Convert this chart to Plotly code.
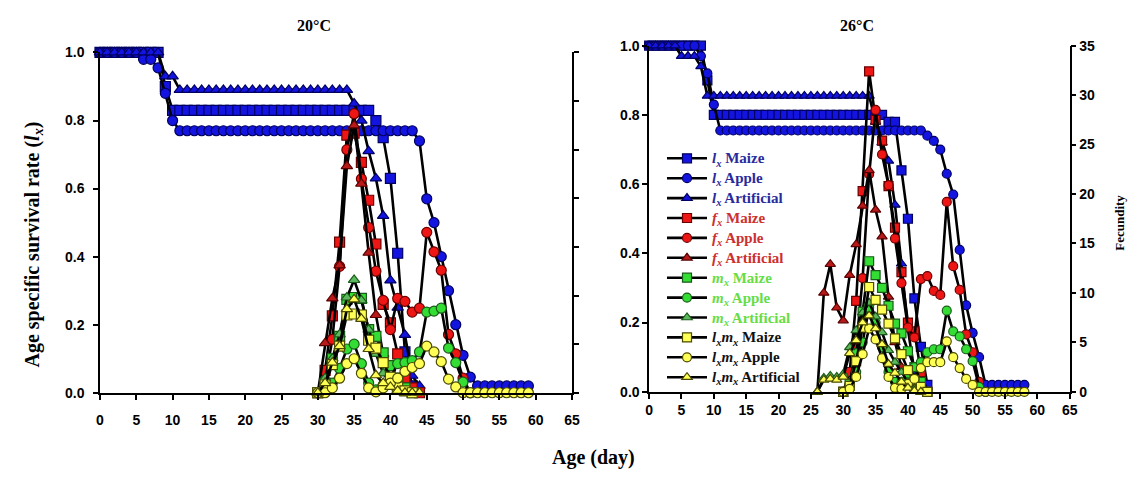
import plotly.graph_objects as go

# ---------------- DATA ----------------
# 20 °C panel ------------------------------------------------------
DAYS_LX_MAIZE_20 = list(range(0, 44))
LX_MAIZE_20 = [1.0, 1.0, 1.0, 1.0, 1.0, 1.0, 1.0, 1.0, 1.0, 0.90,
               0.83, 0.83, 0.83, 0.83, 0.83, 0.83, 0.83, 0.83, 0.83, 0.83,
               0.83, 0.83, 0.83, 0.83, 0.83, 0.83, 0.83, 0.83, 0.83, 0.83,
               0.83, 0.83, 0.83, 0.83, 0.83, 0.83, 0.83, 0.83,
               0.80, 0.75, 0.63, 0.41, 0.12, 0.02]
DAYS_LX_APPLE_20 = list(range(0, 60))
LX_APPLE_20 = [1.0, 1.0, 1.0, 1.0, 1.0, 1.0, 0.98, 0.98, 0.955, 0.88, 0.80,
               0.77, 0.77, 0.77, 0.77, 0.77, 0.77, 0.77, 0.77, 0.77, 0.77,
               0.77, 0.77, 0.77, 0.77, 0.77, 0.77, 0.77, 0.77, 0.77, 0.77,
               0.77, 0.77, 0.77, 0.77, 0.77, 0.77, 0.77, 0.77, 0.77, 0.77,
               0.77, 0.77, 0.77,
               0.74, 0.57, 0.50, 0.40, 0.30, 0.20, 0.11, 0.046,
               0.02, 0.02, 0.02, 0.02, 0.02, 0.02, 0.02, 0.02]
DAYS_LX_ART_20 = list(range(0, 45))
LX_ART_20 = [1.0, 1.0, 1.0, 1.0, 1.0, 1.0, 1.0, 1.0, 1.0, 0.93, 0.93,
             0.89, 0.89, 0.89, 0.89, 0.89, 0.89, 0.89, 0.89, 0.89, 0.89,
             0.89, 0.89, 0.89, 0.89, 0.89, 0.89, 0.89, 0.89, 0.89, 0.89,
             0.89, 0.89, 0.89, 0.89,
             0.85, 0.80, 0.71, 0.63, 0.52, 0.33, 0.25, 0.17, 0.05, 0.02]

DAYS_FX_MAIZE_20 = list(range(30, 45))
FX_MAIZE_20 = [0, 2.3, 7.9, 15.5, 26.5, 26.7, 23.7, 19.8, 15.3, 9.1, 7.2, 4.0, 1.5, 0.5, 0]
DAYS_FX_APPLE_20 = list(range(30, 52))
FX_APPLE_20 = [0, 1.2, 5.5, 13.0, 25.0, 28.7, 22.0, 17.0, 12.5, 9.5, 6.5, 9.7, 9.4, 8.3,
               8.7, 16.5, 14.5, 12.6, 6.0, 4.0, 1.5, 0]
DAYS_FX_ART_20 = list(range(30, 43))
FX_ART_20 = [0, 5.1, 9.7, 13.1, 23.3, 27.5, 21.5, 14.4, 8.0, 4.0, 1.5, 0.5, 0]

DAYS_MX_MAIZE_20 = list(range(30, 44))
MX_MAIZE_20 = [0, 1.0, 3.5, 5.8, 9.6, 9.8, 9.7, 6.5, 5.8, 4.1, 2.8, 1.5, 0.5, 0]
DAYS_MX_APPLE_20 = list(range(30, 52))
MX_APPLE_20 = [0, 0.2, 1.0, 2.5, 4.5, 5.0, 3.0, 1.0, 0.3, 0.8, 1.5, 3.0, 3.1, 3.3,
               4.2, 8.3, 8.4, 8.7, 4.6, 3.1, 1.1, 0]
DAYS_MX_ART_20 = list(range(30, 43))
MX_ART_20 = [0, 1.5, 3.5, 6.0, 9.8, 11.6, 9.5, 6.5, 4.0, 2.0, 1.0, 0.3, 0]

DAYS_LXMX_MAIZE_20 = list(range(30, 44))
LXMX_MAIZE_20 = [0, 0.8, 2.9, 4.8, 8.0, 8.1, 8.0, 5.4, 4.6, 3.1, 1.6, 0.6, 0.2, 0]
DAYS_LXMX_APPLE_20 = list(range(30, 60))
LXMX_APPLE_20 = [0, 0, 0.5, 1.5, 3.0, 3.5, 2.0, 0.5, 0.1, 0.5, 1.0, 1.5, 2.2, 2.6,
                 3.0, 4.8, 4.2, 3.2, 1.4, 0.6, 0, 0, 0, 0, 0, 0, 0, 0, 0, 0]
DAYS_LXMX_ART_20 = list(range(30, 45))
LXMX_ART_20 = [0, 1.0, 3.1, 4.8, 8.6, 9.6, 7.6, 4.5, 1.8, 1.0, 0.6, 0.2, 0, 0, 0]

# 26 °C panel ------------------------------------------------------
DAYS_LX_MAIZE_26 = list(range(0, 44))
LX_MAIZE_26 = [1.0, 1.0, 1.0, 1.0, 1.0, 1.0, 1.0, 1.0, 1.0, 0.90,
               0.80, 0.80, 0.80, 0.80, 0.80, 0.80, 0.80, 0.80, 0.80, 0.80,
               0.80, 0.80, 0.80, 0.80, 0.80, 0.80, 0.80, 0.80, 0.80, 0.80,
               0.80, 0.80, 0.80, 0.80, 0.80, 0.80, 0.80,
               0.78, 0.78, 0.64, 0.50, 0.27, 0.13, 0.02]
DAYS_LX_APPLE_26 = list(range(0, 59))
LX_APPLE_26 = [1.0, 1.0, 1.0, 1.0, 1.0, 1.0, 1.0, 1.0, 0.97, 0.92, 0.83,
               0.755, 0.755, 0.755, 0.755, 0.755, 0.755, 0.755, 0.755, 0.755, 0.755,
               0.755, 0.755, 0.755, 0.755, 0.755, 0.755, 0.755, 0.755, 0.755, 0.755,
               0.755, 0.755, 0.755, 0.755, 0.755, 0.755, 0.755, 0.755, 0.755, 0.755,
               0.755, 0.755,
               0.74, 0.725, 0.70, 0.63, 0.57, 0.41, 0.25, 0.17, 0.10,
               0.02, 0.02, 0.02, 0.02, 0.02, 0.02, 0.02]
DAYS_LX_ART_26 = list(range(0, 43))
LX_ART_26 = [1.0, 1.0, 1.0, 1.0, 1.0, 0.97, 0.97, 0.97, 0.94,
             0.855, 0.855, 0.855, 0.855, 0.855, 0.855, 0.855, 0.855, 0.855, 0.855,
             0.855, 0.855, 0.855, 0.855, 0.855, 0.855, 0.855, 0.855, 0.855, 0.855,
             0.855, 0.855, 0.855, 0.855, 0.855, 0.855,
             0.78, 0.72, 0.667, 0.54, 0.37, 0.18, 0.06, 0.02]

DAYS_FX_MAIZE_26 = list(range(30, 44))
FX_MAIZE_26 = [0, 2.0, 9.2, 20.3, 32.4, 27.5, 25.4, 20.8, 16.6, 12.1, 7.0, 6.1, 2.0, 0]
DAYS_FX_APPLE_26 = list(range(30, 53))
FX_APPLE_26 = [0, 0.8, 4.5, 11.5, 22.0, 28.5, 24.0, 20.9, 15.5, 11.0, 6.5, 5.5,
               11.4, 11.7, 10.2, 9.8, 19.2, 12.7, 10.3, 5.8, 4.0, 1.0, 0]
DAYS_FX_ART_26 = list(range(26, 43))
FX_ART_26 = [0, 10.0, 12.9, 8.5, 7.2, 11.8, 14.9, 18.8, 22.4, 18.4, 15.7, 9.6, 5.0,
             2.5, 1.0, 0.3, 0]

DAYS_MX_MAIZE_26 = list(range(30, 44))
MX_MAIZE_26 = [0, 0.8, 3.9, 8.1, 13.2, 11.8, 10.5, 8.7, 6.9, 5.9, 4.1, 2.5, 1.0, 0]
DAYS_MX_APPLE_26 = list(range(30, 53))
MX_APPLE_26 = [0, 0.4, 2.0, 5.0, 8.5, 7.0, 4.5, 2.0, 1.0, 1.0, 1.8, 2.5,
               3.0, 4.0, 4.3, 4.3, 8.2, 6.1, 5.6, 4.3, 3.1, 0.5, 0]
DAYS_MX_ART_26 = list(range(26, 43))
MX_ART_26 = [0, 1.4, 1.6, 1.5, 1.8, 4.5, 6.2, 8.0, 9.0, 7.6, 6.0, 4.2, 3.0, 2.0,
             1.0, 0.3, 0]

DAYS_LXMX_MAIZE_26 = list(range(30, 44))
LXMX_MAIZE_26 = [0, 0.6, 3.1, 6.5, 10.6, 9.3, 8.3, 6.9, 5.4, 3.8, 2.2, 1.2, 0.5, 0]
DAYS_LXMX_APPLE_26 = list(range(30, 59))
LXMX_APPLE_26 = [0, 0.3, 1.5, 3.8, 6.4, 5.3, 3.4, 1.5, 0.4, 0.3, 0.8, 1.3, 2.4, 3.0,
                 3.0, 3.0, 5.1, 3.5, 2.4, 1.3, 0.7, 0, 0, 0, 0, 0, 0, 0, 0]
DAYS_LXMX_ART_26 = list(range(26, 43))
LXMX_ART_26 = [0, 1.2, 1.3, 1.2, 1.5, 3.9, 5.2, 7.0, 7.7, 6.4, 4.8, 2.8, 1.9, 1.0,
               0.4, 0.1, 0]

X_TICKS = [0, 5, 10, 15, 20, 25, 30, 35, 40, 45, 50, 55, 60, 65]
Y_TICKS = [0.0, 0.2, 0.4, 0.6, 0.8, 1.0]
F_TICKS = [0, 5, 10, 15, 20, 25, 30, 35]

# ---------------- STYLE ----------------
W, H = 1141, 481
SERIF = "Liberation Serif"
SANS = "Liberation Sans"

STY = {
    "lx":   dict(fill="#1414E0", edge="#000060"),
    "fx":   dict(fill="#EE1515", edge="#6A0000"),
    "fxA":  dict(fill="#B81A1A", edge="#5A0000"),
    "mx":   dict(fill="#33DD33", edge="#1A5A1A"),
    "mxA":  dict(fill="#5CB85C", edge="#1A5A1A"),
    "lxmx": dict(fill="#FFFF55", edge="#4A4A00"),
}
SYM = {"Maize": "square", "Apple": "circle", "Artificial": "triangle-up"}

def lbl(kind, host):
    col = {"lx": "#2A2A9C", "fx": "#CC3030", "mx": "#66DD44", "lxmx": "#111111"}[kind]
    sym = {"lx": "<i>l<sub>x</sub></i>", "fx": "<i>f<sub>x</sub></i>",
           "mx": "<i>m<sub>x</sub></i>",
           "lxmx": "<i>l<sub>x</sub>m<sub>x</sub></i>"}[kind]
    return ('<span style="color:%s;font-size:15px"><b>%s %s</b></span>'
            % (col, sym, host))


def px2x(p0, p1):
    return [p0 / W, p1 / W]

def py2y(top, bottom):
    return [1 - bottom / H, 1 - top / H]

fig = go.Figure()

panels = {
    "20": dict(xa="x", ya="y", ya2="y2", show=False, msize=10,
               data=[
                   ("lx", "Maize", DAYS_LX_MAIZE_20, LX_MAIZE_20),
                   ("lx", "Apple", DAYS_LX_APPLE_20, LX_APPLE_20),
                   ("lx", "Artificial", DAYS_LX_ART_20, LX_ART_20),
                   ("fx", "Maize", DAYS_FX_MAIZE_20, FX_MAIZE_20),
                   ("fx", "Apple", DAYS_FX_APPLE_20, FX_APPLE_20),
                   ("fx", "Artificial", DAYS_FX_ART_20, FX_ART_20),
                   ("mx", "Maize", DAYS_MX_MAIZE_20, MX_MAIZE_20),
                   ("mx", "Apple", DAYS_MX_APPLE_20, MX_APPLE_20),
                   ("mx", "Artificial", DAYS_MX_ART_20, MX_ART_20),
                   ("lxmx", "Maize", DAYS_LXMX_MAIZE_20, LXMX_MAIZE_20),
                   ("lxmx", "Apple", DAYS_LXMX_APPLE_20, LXMX_APPLE_20),
                   ("lxmx", "Artificial", DAYS_LXMX_ART_20, LXMX_ART_20),
               ]),
    "26": dict(xa="x2", ya="y3", ya2="y4", show=True, msize=9,
               data=[
                   ("lx", "Maize", DAYS_LX_MAIZE_26, LX_MAIZE_26),
                   ("lx", "Apple", DAYS_LX_APPLE_26, LX_APPLE_26),
                   ("lx", "Artificial", DAYS_LX_ART_26, LX_ART_26),
                   ("fx", "Maize", DAYS_FX_MAIZE_26, FX_MAIZE_26),
                   ("fx", "Apple", DAYS_FX_APPLE_26, FX_APPLE_26),
                   ("fx", "Artificial", DAYS_FX_ART_26, FX_ART_26),
                   ("mx", "Maize", DAYS_MX_MAIZE_26, MX_MAIZE_26),
                   ("mx", "Apple", DAYS_MX_APPLE_26, MX_APPLE_26),
                   ("mx", "Artificial", DAYS_MX_ART_26, MX_ART_26),
                   ("lxmx", "Maize", DAYS_LXMX_MAIZE_26, LXMX_MAIZE_26),
                   ("lxmx", "Apple", DAYS_LXMX_APPLE_26, LXMX_APPLE_26),
                   ("lxmx", "Artificial", DAYS_LXMX_ART_26, LXMX_ART_26),
               ]),
}

for key, p in panels.items():
    for kind, host, days, vals in p["data"]:
        assert len(days) == len(vals), (key, kind, host, len(days), len(vals))
        skey = kind
        if host == "Artificial" and kind in ("fx", "mx"):
            skey = kind + "A"
        st = STY[skey]
        fig.add_trace(go.Scatter(
            x=days, y=vals, mode="lines+markers",
            xaxis=p["xa"], yaxis=p["ya"] if kind == "lx" else p["ya2"],
            name=lbl(kind, host), legendgroup=kind + host,
            showlegend=p["show"], cliponaxis=False,
            line=dict(color="black", width=2.6),
            marker=dict(symbol=SYM[host], size=p["msize"], color=st["fill"],
                        line=dict(color=st["edge"], width=1.2)),
        ))

tickfont = dict(family=SANS, size=14, color="black", weight="bold")
axis_common = dict(showline=True, linecolor="black", linewidth=1.5, ticks="outside",
                   tickcolor="black", ticklen=5, tickwidth=1.5, showgrid=False,
                   zeroline=False, tickfont=tickfont)

fig.update_layout(
    width=W, height=H, margin=dict(l=0, r=0, t=0, b=0),
    paper_bgcolor="white", plot_bgcolor="rgba(0,0,0,0)",
    xaxis=dict(domain=px2x(97, 574), range=[0, 65], tickvals=X_TICKS, anchor="y",
               ticklabelstandoff=9, **axis_common),
    yaxis=dict(domain=py2y(46, 398), range=[0, 1], tickvals=Y_TICKS, tickformat=".1f",
               anchor="x", ticklabelstandoff=6, **axis_common),
    yaxis2=dict(overlaying="y", side="right", anchor="x", range=[0, 35],
                tickvals=F_TICKS, showticklabels=False, **axis_common),
    xaxis2=dict(domain=px2x(652, 1077), range=[0, 65], tickvals=X_TICKS, anchor="y3",
                **axis_common),
    yaxis3=dict(domain=py2y(39, 397), range=[0, 1], tickvals=Y_TICKS, tickformat=".1f",
                anchor="x2", **axis_common),
    yaxis4=dict(overlaying="y3", side="right", anchor="x2", range=[0, 35],
                tickvals=F_TICKS, **axis_common),
    legend=dict(x=665 / W, y=1 - 140 / H, xanchor="left", yanchor="top",
                bgcolor="rgba(0,0,0,0)", font=dict(family=SERIF, size=13, color="black"),
                tracegroupgap=0, itemwidth=40),
    showlegend=True,
)

def ann(text, x, y, size, angle=0):
    fig.add_annotation(text=text, x=x / W, y=1 - y / H, xref="paper", yref="paper",
                       showarrow=False, textangle=angle, xanchor="center", yanchor="middle",
                       font=dict(family=SERIF, size=size, color="black"))

ann("<b>20°C</b>", 313, 18, 16)
ann("<b>26°C</b>", 862, 18, 16)
ann("<b>Age specific survival rate (<i>l<sub>x</sub></i>)</b>", 30, 245, 20, -90)
ann("<b>Age (day)</b>", 596, 465, 20)
ann("<b>Fecundity</b>", 1127, 222, 13, -90)

fig.write_html("out.html")
